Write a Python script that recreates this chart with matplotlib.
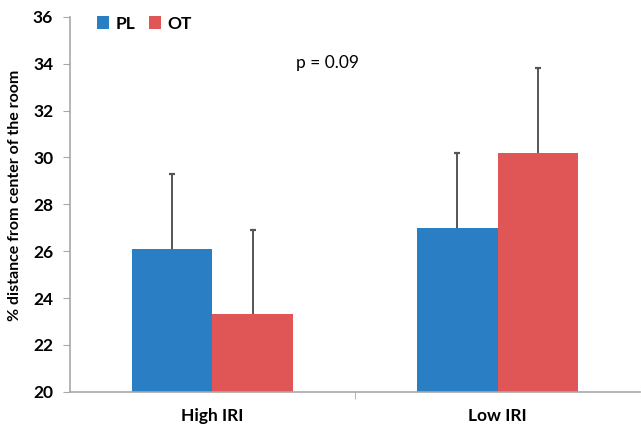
import matplotlib
matplotlib.use("Agg")
import matplotlib.pyplot as plt
import numpy as np

categories = ["High IRI", "Low IRI"]
pl_means = [26.1, 27.0]
pl_err   = [3.2, 3.2]
ot_means = [23.3, 30.2]
ot_err   = [3.6, 3.6]

BLUE = "#2a7ec4"
RED  = "#e05556"
AXIS = "#a8a8a8"
ERR  = "#555555"

plt.rcParams["font.family"] = ["Lato", "DejaVu Sans"]

fig = plt.figure(figsize=(6.41, 4.32), dpi=100)
ax = fig.add_axes([0.109, 0.093, 0.89, 0.868])

x = np.arange(len(categories))
w = 0.283
for offs, means, errs, color, label in ((-w / 2, pl_means, pl_err, BLUE, "PL"),
                                        (w / 2, ot_means, ot_err, RED, "OT")):
    xs = x + offs
    tops = np.array(means) + np.array(errs)
    ax.bar(xs, means, w, color=color, label=label, zorder=2)
    # one-sided error bars (upper only)
    ax.vlines(xs, means, tops, color=ERR, linewidth=1.4, zorder=3)
    ax.plot(xs, tops, linestyle="none", marker="_", markersize=4.5,
            markeredgewidth=1.6, color=ERR, zorder=3)

ax.set_ylim(20, 36)
ax.set_yticks(np.arange(20, 37, 2))
ax.set_xlim(-0.5, 1.5)
ax.set_xticks(x)
ax.set_xticklabels(categories, fontsize=12.5, fontweight="bold")
ax.set_xticks([0.5], minor=True)
ax.tick_params(axis="x", which="major", length=0, pad=12)
ax.tick_params(axis="x", which="minor", length=5, color=AXIS)
ax.tick_params(axis="y", length=5, color=AXIS, labelsize=12.5, pad=7)
for lbl in ax.get_yticklabels():
    lbl.set_fontweight("bold")

for side in ("top", "right"):
    ax.spines[side].set_visible(False)
for side in ("left", "bottom"):
    ax.spines[side].set_color(AXIS)
    ax.spines[side].set_linewidth(1.2)

ax.set_ylabel("% distance from center of the room", fontsize=11.5,
              fontweight="bold")
ax.yaxis.set_label_coords(-0.084, 0.525)

ax.text(0.293, 34.04, "p = 0.09", fontsize=12.5, ha="left", va="center")

ax.legend(loc="upper left", bbox_to_anchor=(0.02, 1.045), ncol=2, frameon=False,
          handlelength=0.7, handleheight=0.7, handletextpad=0.35, columnspacing=0.8,
          prop={"weight": "bold", "size": 12.5})

fig.savefig("out.png", dpi=100)
